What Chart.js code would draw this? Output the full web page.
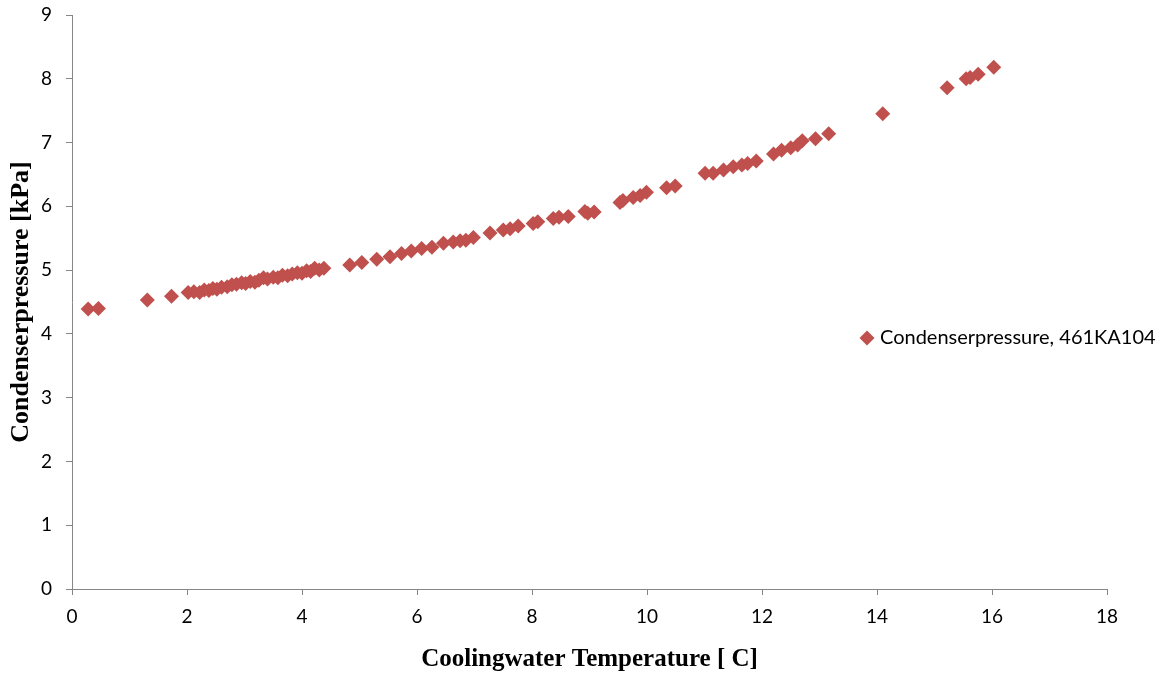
<!DOCTYPE html>
<html>
<head>
<meta charset="utf-8">
<script src="https://cdn.jsdelivr.net/npm/chart.js@4/dist/chart.umd.min.js"></script>
<style>
  html, body { margin: 0; padding: 0; background: #fff; }
  #wrap { width: 1166px; height: 680px; }
</style>
</head>
<body>
<div id="wrap"><canvas id="chart" width="1166" height="680"></canvas></div>
<script>
// cooling water temperature [C]
const tempC = [
  0.28, 0.46, 1.31, 1.73,
  2.02, 2.12, 2.22, 2.30, 2.38, 2.45, 2.52, 2.60, 2.70, 2.78,
  2.86, 2.95, 3.02, 3.10, 3.18, 3.25, 3.33, 3.40, 3.50, 3.58,
  3.66, 3.75, 3.83, 3.92, 4.00, 4.08, 4.15, 4.22, 4.30, 4.38,
  4.83, 5.04, 5.30, 5.53, 5.73, 5.90, 6.08, 6.26, 6.46, 6.63,
  6.75, 6.85, 6.98, 7.27, 7.50, 7.62, 7.76, 8.02, 8.10, 8.37,
  8.47, 8.63, 8.92, 8.97, 9.08, 9.53, 9.58, 9.76, 9.88, 9.99,
  10.34, 10.49, 11.01, 11.15, 11.33, 11.50, 11.65, 11.75, 11.90, 12.20,
  12.34, 12.50, 12.62, 12.70, 12.93, 13.16, 14.10, 15.22, 15.55, 15.62,
  15.76, 16.03
];
// condenser pressure [kPa]
const pressureKPa = [
  4.39, 4.40, 4.53, 4.59,
  4.65, 4.66, 4.65, 4.69, 4.68, 4.71, 4.70, 4.73, 4.74, 4.77,
  4.78, 4.80, 4.79, 4.82, 4.81, 4.84, 4.88, 4.86, 4.89, 4.88,
  4.92, 4.91, 4.94, 4.96, 4.95, 4.99, 4.98, 5.03, 5.00, 5.03,
  5.08, 5.12, 5.17, 5.21, 5.26, 5.30, 5.34, 5.36, 5.42, 5.44,
  5.46, 5.47, 5.51, 5.58, 5.63, 5.65, 5.69, 5.73, 5.76, 5.81,
  5.83, 5.84, 5.92, 5.89, 5.91, 6.06, 6.09, 6.14, 6.17, 6.22,
  6.29, 6.32, 6.52, 6.52, 6.57, 6.62, 6.65, 6.67, 6.71, 6.82,
  6.88, 6.92, 6.96, 7.03, 7.06, 7.14, 7.45, 7.86, 8.00, 8.02,
  8.07, 8.18
];
const seriesName = "Condenserpressure, 461KA104";
const xTitle = "Coolingwater Temperature [ C]";
const yTitle = "Condenserpressure [kPa]";

const red = "#C0504D";
const axisGrey = "#868686";

// legend sits inside the plot, Excel style
const sideLegend = {
  id: "sideLegend",
  afterDraw(chart) {
    const ctx = chart.ctx;
    const cx = 867, cy = 338, r = 7.5;
    ctx.save();
    ctx.fillStyle = red;
    ctx.beginPath();
    ctx.moveTo(cx, cy - r);
    ctx.lineTo(cx + r, cy);
    ctx.lineTo(cx, cy + r);
    ctx.lineTo(cx - r, cy);
    ctx.closePath();
    ctx.fill();
    ctx.fillStyle = "#000";
    ctx.font = "20px Lato";
    ctx.textBaseline = "middle";
    ctx.fillText(seriesName, 880, cy);
    ctx.restore();
  }
};

const points = tempC.map((t, i) => ({ x: t, y: pressureKPa[i] }));

new Chart(document.getElementById("chart"), {
  type: "scatter",
  data: {
    datasets: [{
      label: seriesName,
      data: points,
      pointStyle: "rectRot",
      pointRadius: 7.5,
      pointHoverRadius: 7.5,
      backgroundColor: red,
      borderColor: red,
      borderWidth: 0
    }]
  },
  options: {
    responsive: false,
    animation: false,
    layout: { padding: { top: 15, right: 59, bottom: 0, left: 0 } },
    plugins: {
      legend: { display: false },
      tooltip: { enabled: false }
    },
    scales: {
      x: {
        type: "linear",
        min: 0,
        max: 18,
        afterFit(scale) {
          scale.height = 91;
          scale.paddingLeft = 0;
          scale.paddingRight = 0;
        },
        ticks: { stepSize: 2, color: "#000", font: { family: "Lato", size: 19 }, padding: 10 },
        grid: { drawOnChartArea: false, tickLength: 6, color: axisGrey },
        border: { color: axisGrey, width: 1 },
        title: {
          display: true,
          text: xTitle,
          color: "#000",
          font: { family: "Liberation Serif", size: 25, weight: "bold" },
          padding: { top: 0, bottom: 5 }
        }
      },
      y: {
        min: 0,
        max: 9,
        afterFit(scale) {
          scale.width = 72;
          scale.paddingTop = 0;
          scale.paddingBottom = 0;
        },
        ticks: { stepSize: 1, color: "#000", font: { family: "Lato", size: 19 }, padding: 14 },
        grid: { drawOnChartArea: false, tickLength: 6, color: axisGrey },
        border: { color: axisGrey, width: 1 },
        title: {
          display: true,
          text: yTitle,
          color: "#000",
          font: { family: "Liberation Serif", size: 26, weight: "bold" },
          padding: { top: 6, bottom: 0 }
        }
      }
    }
  },
  plugins: [sideLegend]
});
</script>
</body>
</html>
